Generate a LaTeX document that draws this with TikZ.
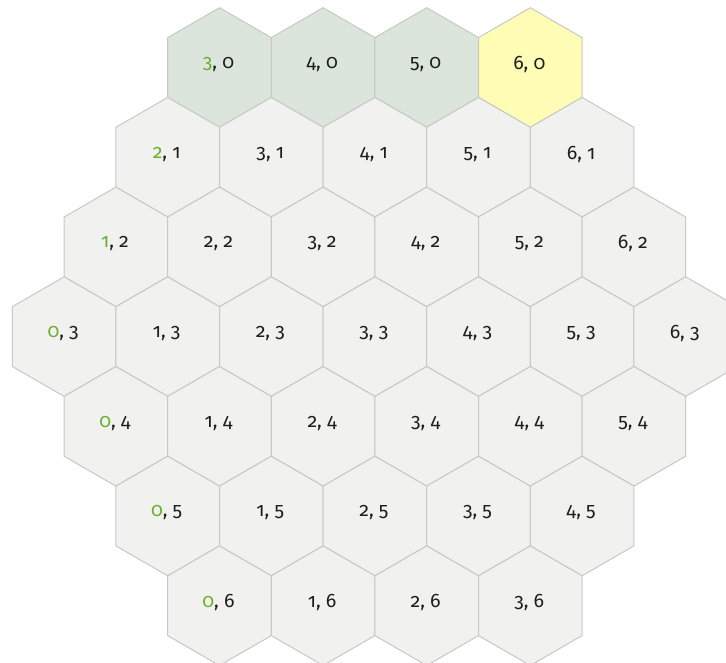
\documentclass[tikz,border=0pt]{standalone}
\usepackage{fontspec}
\setmainfont{Fira Sans}[Numbers=OldStyle]
\definecolor{hexfill}{HTML}{F1F1EF}
\definecolor{hexgreen}{HTML}{DCE5DC}
\definecolor{hexyellow}{HTML}{FFFCB6}
\definecolor{hexline}{HTML}{C8C8C5}
\definecolor{labgreen}{HTML}{6AB02E}
\definecolor{labtext}{HTML}{1E1E1E}
\begin{document}
\begin{tikzpicture}[x=1pt,y=-1pt,
  hexcell/.style={draw=hexline, line width=1pt},
  hexlabel/.style={font=\fontsize{19.5}{19.5}\selectfont, text=labtext, inner sep=0pt}]
\useasboundingbox (0,0) rectangle (726,663);
\clip (0,0) rectangle (726,663);
\foreach \r in {0,...,6}{
  \pgfmathtruncatemacro\qmin{max(0,3-\r)}
  \pgfmathtruncatemacro\qmax{min(6,9-\r)}
  \foreach \q in {\qmin,...,\qmax}{
    \pgfmathsetmacro\cx{-91.3+103.6*(\q+\r/2)}
    \pgfmathsetmacro\cy{67.5+89.7*\r}
    \ifnum\r=0
      \ifnum\q=6 \def\fillc{hexyellow}\else\def\fillc{hexgreen}\fi
    \else
      \def\fillc{hexfill}
    \fi
    \draw[hexcell, fill=\fillc] (\cx+51.8,\cy-29.9) -- (\cx,\cy-59.8) -- (\cx-51.8,\cy-29.9)
      -- (\cx-51.8,\cy+29.9) -- (\cx,\cy+59.8) -- (\cx+51.8,\cy+29.9) -- cycle;
    \node[hexlabel] (h\q-\r) at (\cx-1,\cy-3) {\ifnum\q=\qmin\textcolor{labgreen}{\q}\else\q\fi, \r};
  }
}
\end{tikzpicture}
\end{document}
